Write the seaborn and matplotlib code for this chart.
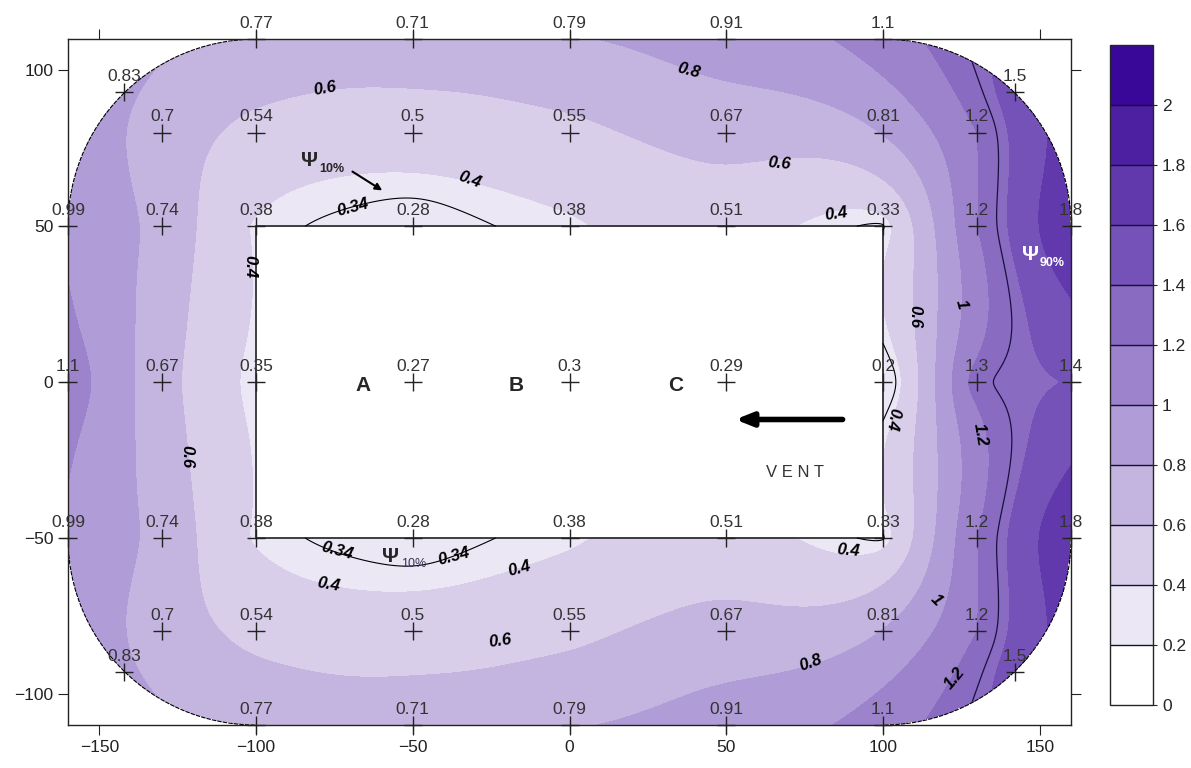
# Mapa de contorno - valores medidos em torno do bloco (vento da direita)

import numpy as np
import pandas as pd
import matplotlib
matplotlib.use("Agg")
import matplotlib.pyplot as plt
import seaborn as sns

# Dados (x, y em cm; valor adimensional)

x_borda = [-100, -50, 0, 50, 100]
v_topo = [0.77, 0.71, 0.79, 0.91, 1.1]
v_base = [0.77, 0.71, 0.79, 0.91, 1.1]

x_canto = [-142, 142]
v_canto_sup = [0.83, 1.5]
v_canto_inf = [0.83, 1.5]

x_80 = [-130, -100, -50, 0, 50, 100, 130]
v_80 = [0.7, 0.54, 0.5, 0.55, 0.67, 0.81, 1.2]
v_m80 = [0.7, 0.54, 0.5, 0.55, 0.67, 0.81, 1.2]

x_meio = [-160, -130, -100, -50, 0, 50, 100, 130, 160]
v_50 = [0.99, 0.74, 0.38, 0.28, 0.38, 0.51, 0.33, 1.2, 1.8]
v_0 = [1.1, 0.67, 0.35, 0.27, 0.3, 0.29, 0.2, 1.3, 1.4]
v_m50 = [0.99, 0.74, 0.38, 0.28, 0.38, 0.51, 0.33, 1.2, 1.8]

niveis = np.arange(0, 2.21, 0.2)
psi_10 = 0.34
psi_90 = 1.33

# Montando a tabela de pontos
linhas = [
    (x_borda, 110, v_topo), (x_canto, 93, v_canto_sup), (x_80, 80, v_80),
    (x_meio, 50, v_50), (x_meio, 0, v_0), (x_meio, -50, v_m50),
    (x_80, -80, v_m80), (x_canto, -93, v_canto_inf), (x_borda, -110, v_base),
]
df = pd.concat(
    [pd.DataFrame({"x": xs, "y": y, "valor": vs}) for xs, y, vs in linhas],
    ignore_index=True)


# Krigagem ordinaria com variograma linear (equivale a RBF linear + constante)
def krigagem(px, py, pv, gx, gy):
    n = len(px)
    r = np.hypot(px[:, None] - px[None, :], py[:, None] - py[None, :])
    A = np.zeros((n + 1, n + 1))
    A[:n, :n] = r
    A[:n, n] = 1
    A[n, :n] = 1
    b = np.concatenate([pv, [0]])
    sol = np.linalg.solve(A, b)
    w, c = sol[:n], sol[n]
    rg = np.hypot(gx.ravel()[:, None] - px[None, :], gy.ravel()[:, None] - py[None, :])
    return (rg @ w + c).reshape(gx.shape)


px = df["x"].values.astype(float)
py = df["y"].values.astype(float)
pv = df["valor"].values.astype(float)

gx, gy = np.meshgrid(np.linspace(-160, 160, 641), np.linspace(-110, 110, 441))
gz = krigagem(px, py, pv, gx, gy)
gz = np.clip(gz, 0.001, 2.19)

# mascara: fora do retangulo arredondado e dentro do bloco
ax_abs, ay_abs = np.abs(gx), np.abs(gy)
fora = (ax_abs > 100) & (ay_abs > 50) & ((ax_abs - 100) ** 2 + (ay_abs - 50) ** 2 > 60 ** 2)
dentro = (ax_abs < 100) & (ay_abs < 50)
gz = np.ma.masked_where(fora | dentro, gz)


# Figura
sns.set_style("ticks")
plt.rcParams["font.family"] = ["Liberation Sans", "DejaVu Sans"]

cores = sns.blend_palette(["#ffffff", "#3a0898"], n_colors=len(niveis) - 1)

fig = plt.figure(figsize=(11.91, 7.68), dpi=100)
ax = fig.add_axes([0.0571, 0.056, 0.8422, 0.893])
cax = fig.add_axes([0.932, 0.082, 0.036, 0.859])

cf = ax.contourf(gx, gy, gz, levels=niveis, colors=cores)
ax.contour(gx, gy, gz, levels=[psi_10], colors="black", linewidths=0.8)
ax.contour(gx, gy, gz, levels=[psi_90], colors="#1a1040", linewidths=0.9)

# contorno do dominio e do bloco
t = np.linspace(0, np.pi / 2, 60)
for sx, sy in [(1, 1), (-1, 1), (-1, -1), (1, -1)]:
    ax.plot(sx * (100 + 60 * np.cos(t)), sy * (50 + 60 * np.sin(t)),
            color="black", lw=0.8, ls=(0, (4, 1)))
ax.add_patch(plt.Rectangle((-100, -50), 200, 100, fill=False,
                           edgecolor="#222222", lw=1.2))

# pontos de medicao
sns.scatterplot(data=df, x="x", y="y", marker="+", color="#222222",
                s=170, linewidth=1.0, ax=ax, legend=False)
ax.collections[-1].set_clip_on(False)
for _, p in df.iterrows():
    ax.annotate(f"{p['valor']:g}", (p["x"], p["y"]), xytext=(0, 6),
                textcoords="offset points", ha="center", va="bottom",
                fontsize=12.5, color="#333333", annotation_clip=False)

# rotulos das curvas
rotulos = [
    ("0.6", -78, 94, 10), ("0.8", 38, 100, -15), ("0.4", -32, 65, -20),
    ("0.6", 67, 70, -5), ("0.34", -69, 56, 15), ("0.4", 85, 54, 8),
    ("0.4", -102, 37, -90), ("0.6", 110, 21, -90), ("1", 125, 25, -75),
    ("0.4", 103, -12, -100), ("1.2", 131, -17, -80), ("0.6", -122, -24, -90),
    ("0.34", -74, -54, -15), ("0.34", -37, -56, 15), ("0.4", -77, -65, -10),
    ("0.4", -16, -60, 15), ("0.4", 89, -54, -5), ("0.6", -22, -83, 8),
    ("1", 117, -70, -45), ("0.8", 77, -90, 20), ("1.2", 123, -95, 50),
]
for txt, x, y, rot in rotulos:
    ax.text(x, y, txt, rotation=rot, ha="center", va="center", fontsize=12,
            fontweight="bold", fontstyle="italic", color="black")

# Psi 10% e 90%
ax.text(-83, 71, "\u03a8", fontsize=15, fontweight="bold", ha="center", va="center")
ax.annotate("10%", (-83, 71), xytext=(7, -6), textcoords="offset points",
            fontsize=9, fontweight="bold", ha="left", va="center")
ax.annotate("", xy=(-59, 61), xytext=(-70, 68),
            arrowprops=dict(arrowstyle="-|>", color="black", lw=1.5))
ax.text(-57, -56, "\u03a8", fontsize=15, fontweight="bold", ha="center", va="center")
ax.annotate("10%", (-57, -56), xytext=(7, -5), textcoords="offset points",
            fontsize=9, ha="left", va="center", color="#333355")
ax.text(147, 41, "\u03a8", fontsize=15, fontweight="bold", ha="center",
        va="center", color="white")
ax.annotate("90%", (147, 41), xytext=(7, -6), textcoords="offset points",
            fontsize=9, fontweight="bold", ha="left", va="center", color="white")

# blocos A, B, C e vento
for letra, x in [("A", -66), ("B", -17), ("C", 34)]:
    ax.text(x, -1, letra, fontsize=15, fontweight="bold", ha="center", va="center")
ax.annotate("", xy=(52, -12), xytext=(88, -12),
            arrowprops=dict(arrowstyle="-|>,head_width=0.4,head_length=1.0",
                            color="black", lw=4))
ax.text(72, -29, "V E N T", fontsize=12, ha="center", va="center", color="#333333")

# Eixos
ax.set_xlim(-160, 160)
ax.set_ylim(-110, 110)
ax.set_xticks([-150, -100, -50, 0, 50, 100, 150])
ax.set_yticks([-100, -50, 0, 50, 100])
ax.set_xlabel("")
ax.set_ylabel("")
ax.tick_params(direction="out", length=7, width=0.8, top=True, right=True,
               labelsize=12.5, colors="#222222")
for s in ax.spines.values():
    s.set_linewidth(1.0)
    s.set_color("#222222")

# Barra de cores
cb = fig.colorbar(cf, cax=cax, ticks=np.arange(0, 2.01, 0.2), drawedges=True)
cb.ax.set_yticklabels([f"{v:g}" for v in np.arange(0, 2.01, 0.2).round(1)])
cb.ax.tick_params(length=3, labelsize=12.5, width=0.8)
cb.outline.set_linewidth(1.0)
cb.dividers.set_color("#111133")
cb.dividers.set_linewidth(1.0)

fig.savefig("out.png", dpi=100)
